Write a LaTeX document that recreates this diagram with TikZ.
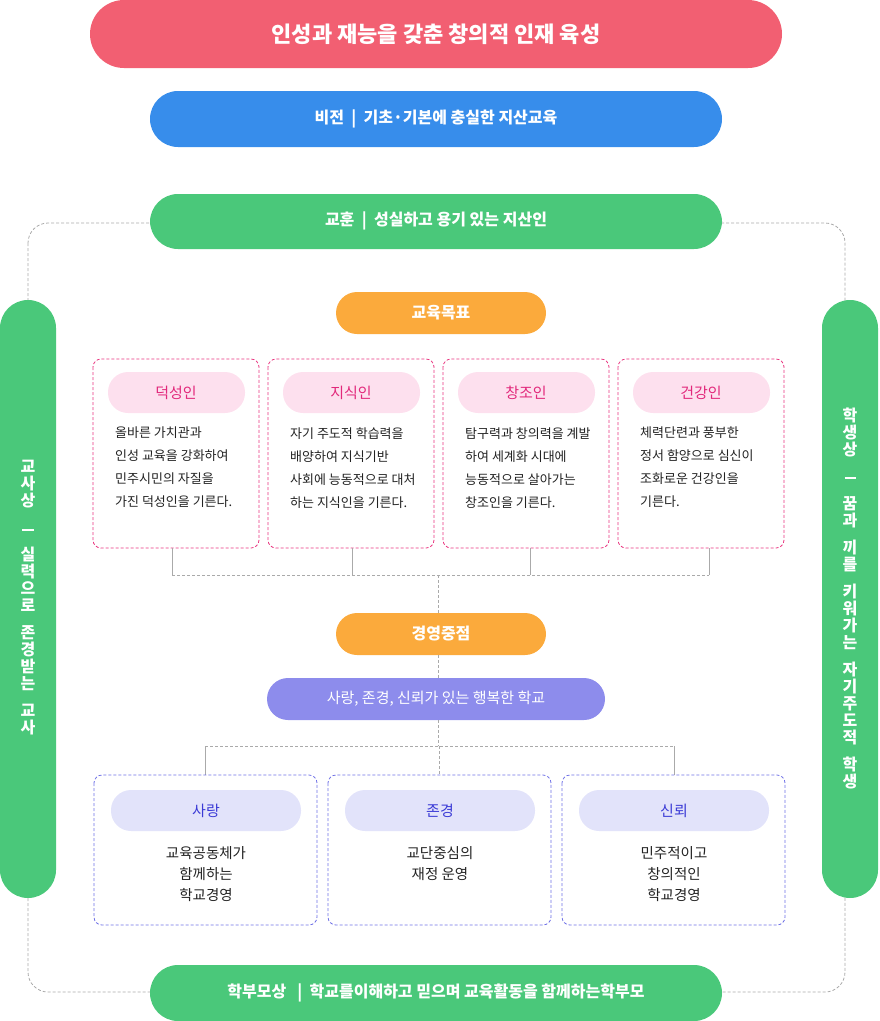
\documentclass[tikz,border=0pt]{standalone}
\usepackage{fontspec}
\setmainfont{Noto Sans CJK KR}
\usetikzlibrary{positioning}
\definecolor{cred}{HTML}{F25F72}
\definecolor{cblue}{HTML}{378DEB}
\definecolor{cgreen}{HTML}{4AC87A}
\definecolor{corange}{HTML}{FBAA3C}
\definecolor{cpurple}{HTML}{8D8CEC}
\definecolor{cpink}{HTML}{E9347F}
\definecolor{cpinkbg}{HTML}{FDE0EE}
\definecolor{cpinktx}{HTML}{E2287B}
\definecolor{cvio}{HTML}{6E70E6}
\definecolor{cviobg}{HTML}{E2E3FA}
\definecolor{cviotx}{HTML}{3B3BD6}
\definecolor{cline}{HTML}{AAAAAA}
\definecolor{ctext}{HTML}{222222}
\tikzset{
  pill/.style={rounded corners=#1, text=white, font=\fontsize{16}{18}\selectfont\bfseries, inner sep=0},
  box/.style={draw, dashed, rounded corners=8, line width=0.8pt, dash pattern=on 3pt off 2pt},
  con/.style={draw=cline, line width=0.8pt, dash pattern=on 3pt off 2pt},
  stub/.style={draw=cline, line width=0.8pt},
  body/.style={text=ctext, font=\fontsize{13}{23}\selectfont},
}
\newcommand{\vbar}{\rule[3pt]{11pt}{1.8pt}}
\begin{document}
\begin{tikzpicture}[x=1pt,y=-1pt]
\useasboundingbox (0,0) rectangle (879,1021);
% dashed loop
\draw[con, rounded corners=20] (28,223) rectangle (845,992);
% top pills
\fill[cred, rounded corners=34] (90,0) rectangle (782,68);
\node[text=white, font=\fontsize{22}{24}\selectfont\bfseries] (t1) at (436,34) {인성과 재능을 갖춘 창의적 인재 육성};
\fill[cblue, rounded corners=28] (150,91) rectangle (722,147);
\node[pill=0] (t2) at (436,119) {비전 \ | \ 기초·기본에 충실한 지산교육};
\fill[cgreen, rounded corners=28] (150,194) rectangle (722,249);
\node[pill=0] (t3) at (436,221) {교훈 \ | \ 성실하고 용기 있는 지산인};
\fill[cgreen, rounded corners=28] (150,965) rectangle (722,1021);
\node[pill=0] (t4) at (436,993) {학부모상 \ \ | \ 학교를이해하고 믿으며 교육활동을 함께하는학부모};
% side pills
\fill[cgreen, rounded corners=28] (0,300) rectangle (56,898);
\fill[cgreen, rounded corners=28] (822,300) rectangle (878,898);
\node[text=white, font=\fontsize{16}{17}\selectfont\bfseries, align=center, inner sep=0] (sl) at (28,598)
{교\\사\\상\\[10pt]\vbar\\[10pt]실\\력\\으\\로\\[10pt]존\\경\\받\\는\\[10pt]교\\사};
\node[text=white, font=\fontsize{16}{17}\selectfont\bfseries, align=center, inner sep=0] (sr) at (850,598)
{학\\생\\상\\[10pt]\vbar\\[10pt]꿈\\과\\[10pt]끼\\를\\[10pt]키\\워\\가\\는\\[10pt]자\\기\\주\\도\\적\\[10pt]학\\생};
% 교육목표
\fill[corange, rounded corners=21] (336,292) rectangle (546,334);
\node[pill=0] (g1) at (441,313) {교육목표};
% four cards
\foreach \x/\n/\a/\b/\c/\d [count=\i] in {
 93/덕성인/올바른 가치관과/인성 교육을 강화하여/민주시민의 자질을/가진 덕성인을 기른다.,
 268/지식인/자기 주도적 학습력을/배양하여 지식기반/사회에 능동적으로 대처/하는 지식인을 기른다.,
 443/창조인/탐구력과 창의력을 계발/하여 세계화 시대에/능동적으로 살아가는/창조인을 기른다.,
 618/건강인/체력단련과 풍부한/정서 함양으로 심신이/조화로운 건강인을/기른다.}{
  \draw[box, draw=cpink] (\x,359) rectangle ++(166,189);
  \fill[cpinkbg, rounded corners=20] (\x+15,372) rectangle ++(137,41);
  \node[text=cpinktx, font=\fontsize{15}{16}\selectfont] (k\i) at (\x+83,392.5) {\n};
  \node[body, anchor=north west, align=left, inner sep=0] (kb\i) at (\x+22,427) {\a\\\b\\\c\\\d};
}
\coordinate (j1) at (438,575);
\draw[stub] (172,548) -- (172,575);
\draw[stub] (352,548) -- (352,575);
\draw[stub] (530,548) -- (530,575);
\draw[stub] (709,548) -- (709,575);
\draw[con] (172,575) -- (709,575);
\draw[con] (j1) -- (438,613);
% 경영중점
\fill[corange, rounded corners=21] (336,613) rectangle (546,655);
\node[pill=0] (g2) at (441,634) {경영중점};
\draw[con] (438,655) -- (438,678);
\fill[cpurple, rounded corners=21] (267,678) rectangle (605,720);
\node[text=white, font=\fontsize{15}{16}\selectfont, inner sep=0] (g3) at (436,699) {사랑, 존경, 신뢰가 있는 행복한 학교};
\draw[con] (438,720) -- (438,746);
\draw[con] (205,746) -- (674,746);
\draw[stub] (205,746) -- (205,775);
\draw[con] (439,746) -- (439,775);
\draw[stub] (674,746) -- (674,775);
% three cards
\foreach \x/\n/\t [count=\i] in {
 94/사랑/{교육공동체가\\함께하는\\학교경영},
 328/존경/{교단중심의\\재정 운영},
 562/신뢰/{민주적이고\\창의적인\\학교경영}}{
  \draw[box, draw=cvio] (\x,775) rectangle ++(223,150);
  \fill[cviobg, rounded corners=20] (\x+17,790) rectangle ++(190,41);
  \node[text=cviotx, font=\fontsize{15}{16}\selectfont] (m\i) at (\x+112,810.5) {\n};
  \node[body, anchor=north, align=center, inner sep=0, font=\fontsize{14.5}{21}\selectfont] (mb\i) at (\x+112,846) {\t};
}
\end{tikzpicture}
\end{document}
